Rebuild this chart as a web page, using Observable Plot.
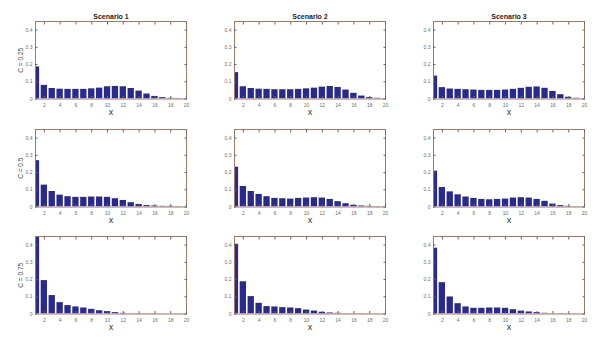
<!DOCTYPE html>
<html>
<head>
<meta charset="utf-8">
<script src="https://cdn.jsdelivr.net/npm/d3@7"></script>
<script src="https://cdn.jsdelivr.net/npm/@observablehq/plot@0.6"></script>
<style>
  html, body { margin: 0; padding: 0; background: #fff; }
  #chart { position: relative; width: 596px; height: 338px; background: #fff; overflow: hidden; font-family: "Liberation Sans", Arial, sans-serif; }
  #chart svg { position: absolute; overflow: visible; }
</style>
</head>
<body>
<div id="chart"></div>
<script>
// ---- data ----
const xs = [1,2,3,4,5,6,7,8,9,10,11,12,13,14,15,16,17,18,19,20];
const scenarios = ["Scenario 1", "Scenario 2", "Scenario 3"];
const rowLabels = ["C = 0.25", "C = 0.5", "C = 0.75"];
const xTicks = [2,4,6,8,10,12,14,16,18,20];
const yTicks = [0, 0.1, 0.2, 0.3, 0.4];
const yTickLabels = ["0", "0.1", "0.2", "0.3", "0.4"];

// row C = 0.25
const c25s1 = [0.186,0.079,0.061,0.057,0.056,0.056,0.056,0.059,0.063,0.071,0.073,0.071,0.061,0.046,0.029,0.015,0.008,0.004,0.003,0.001];
const c25s2 = [0.153,0.071,0.061,0.057,0.056,0.054,0.054,0.054,0.056,0.059,0.063,0.069,0.073,0.067,0.052,0.033,0.017,0.008,0.004,0.001];
const c25s3 = [0.133,0.066,0.058,0.056,0.054,0.052,0.050,0.050,0.050,0.052,0.056,0.062,0.068,0.070,0.062,0.044,0.025,0.010,0.004,0.001];
// row C = 0.5
const c50s1 = [0.269,0.127,0.090,0.069,0.060,0.056,0.056,0.058,0.058,0.056,0.048,0.038,0.025,0.015,0.008,0.006,0.004,0.004,0.002,0.001];
const c50s2 = [0.231,0.119,0.090,0.073,0.060,0.050,0.048,0.046,0.050,0.052,0.054,0.052,0.044,0.031,0.019,0.010,0.006,0.004,0.002,0.001];
const c50s3 = [0.208,0.113,0.088,0.071,0.058,0.050,0.044,0.042,0.044,0.046,0.052,0.054,0.052,0.044,0.033,0.017,0.008,0.004,0.002,0.001];
// row C = 0.75
const c75s1 = [0.46,0.194,0.107,0.066,0.049,0.041,0.035,0.027,0.019,0.014,0.008,0.004,0.002,0.002,0.002,0.002,0.001,0.001,0.001,0.001];
const c75s2 = [0.405,0.187,0.101,0.062,0.043,0.041,0.037,0.035,0.031,0.023,0.017,0.010,0.006,0.004,0.002,0.002,0.002,0.001,0.001,0.001];
const c75s3 = [0.382,0.182,0.099,0.060,0.041,0.033,0.033,0.035,0.035,0.033,0.025,0.017,0.012,0.008,0.004,0.002,0.002,0.002,0.001,0.001];

const grid = [[c25s1, c25s2, c25s3], [c50s1, c50s2, c50s3], [c75s1, c75s2, c75s3]];

// ---- layout ----
const colLeft = [34.5, 234.3, 433.3];
const rowTop = [21, 129, 235.5];
const innerW = 151, innerH = 77.5;
const mL = 40, mR = 10, mT = 22, mB = 20;

const frameColor = "#a07868";
const barColor = "#2a2a8c";
const tickText = "#6e6e6e";

const container = document.getElementById("chart");

for (let r = 0; r < 3; r++) {
  for (let c = 0; c < 3; c++) {
    const data = xs.map((x, i) => ({x, v: grid[r][c][i]}));
    const marks = [
      Plot.rectY(data, {x1: d => d.x - 0.4, x2: d => d.x + 0.4, y1: 0, y2: "v", fill: barColor, clip: true}),
      Plot.frame({stroke: frameColor, strokeWidth: 1}),
      Plot.axisX(xTicks, {anchor: "bottom", tickSize: -2.5, tickPadding: 6.5, stroke: "#666", color: tickText, fontSize: 5, label: null}),
      Plot.axisX(xTicks, {anchor: "top", tickSize: -2.5, stroke: "#666", tickFormat: () => "", label: null}),
      Plot.axisY(yTicks, {anchor: "left", tickSize: -2.5, tickPadding: 5.5, stroke: "#666", color: tickText, fontSize: 5, tickFormat: (d) => yTickLabels[yTicks.indexOf(d)], label: null}),
      Plot.axisY(yTicks, {anchor: "right", tickSize: -2.5, stroke: "#666", tickFormat: () => "", label: null}),
      Plot.text(["x"], {frameAnchor: "bottom", lineAnchor: "middle", dy: 13.5, fontSize: 9, fill: "#333", text: d => d})
    ];
    if (r === 0) {
      marks.push(Plot.text([scenarios[c]], {frameAnchor: "top", lineAnchor: "middle", dy: -5, fontSize: 7, fontWeight: "bold", fill: "#222", text: d => d}));
    }
    if (c === 0) {
      marks.push(Plot.text([rowLabels[r]], {frameAnchor: "left", textAnchor: "middle", lineAnchor: "middle", dx: -14.5, rotate: -90, fontSize: 6.5, fill: "#444", text: d => d}));
    }
    const chart = Plot.plot({
      width: mL + innerW + mR,
      height: mT + innerH + mB,
      marginLeft: mL, marginRight: mR, marginTop: mT, marginBottom: mB,
      style: {background: "transparent", fontFamily: "Liberation Sans, Arial, sans-serif"},
      x: {type: "linear", domain: [0.88, 20]},
      y: {domain: [0, 0.45]},
      marks
    });
    chart.style.left = (colLeft[c] - mL) + "px";
    chart.style.top = (rowTop[r] - mT) + "px";
    container.appendChild(chart);
  }
}
</script>
</body>
</html>
